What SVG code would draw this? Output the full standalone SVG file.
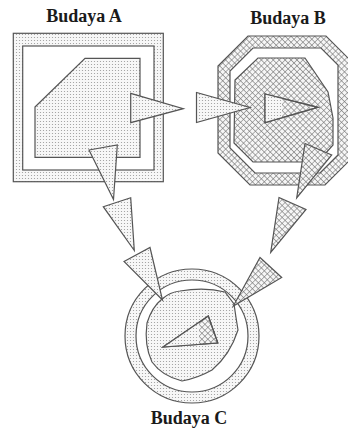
<svg xmlns="http://www.w3.org/2000/svg" width="348" height="430" viewBox="0 0 348 430">
<defs>
<pattern id="dots" width="3" height="3" patternUnits="userSpaceOnUse">
<rect width="3" height="3" fill="#f7f7f7"/>
<circle cx="1.5" cy="1.5" r="0.6" fill="#999"/>
</pattern>
<pattern id="hatch" width="4.2" height="4.2" patternUnits="userSpaceOnUse" patternTransform="rotate(45)">
<rect width="4.2" height="4.2" fill="#f6f6f6"/>
<path d="M0 0H4.2M0 0V4.2" stroke="#777" stroke-width="1.1"/>
</pattern>
<clipPath id="clipBtri"><rect x="250" y="80" width="32" height="60"/></clipPath>
<clipPath id="clipCtri"><rect x="150" y="300" width="49" height="60"/></clipPath>
</defs>
<style>
.t{font-family:"Liberation Serif","Times New Roman",serif;font-weight:bold;font-size:18px;fill:#1a1a1a;text-anchor:middle}
.s{stroke:#555;stroke-width:1.2;stroke-linejoin:miter}
.d{fill:url(#dots)}
.h{fill:url(#hatch)}
.w{fill:#fff}
</style>
<g id="nodeA">
<text class="t" x="84" y="22">Budaya A</text>
<rect class="s d" x="13.3" y="33.3" width="150" height="148.4"/>
<rect class="s w" x="22.7" y="46" width="131.3" height="124"/>
<polygon class="s d" points="35,107 85,58.3 140,58.3 140,157.3 35,157.3"/>
</g>
<g id="nodeB">
<text class="t" x="288" y="24">Budaya B</text>
<polygon class="s h" points="248,36 326,36 350,60 350,160 325,185 250,185 218,153 218,66"/>
<polygon class="s w" points="253,48 321,48 338,65 338,155 320,173 255,173 230,148 230,71"/>
<polygon class="s h" points="258,58 305,58 328,92 333,118 333,145 318,162 253,162 234,143 235,80"/>
</g>
<g id="nodeC">
<text class="t" x="189" y="424">Budaya C</text>
<circle class="s d" cx="192" cy="336" r="67"/>
<circle class="s w" cx="192" cy="336" r="56"/>
<path class="s d" d="M162,299 Q170,292 180,291 Q205,287 225,292 L234,304 Q236,318 238,330 Q230,355 212,370 Q198,378 182,381 Q162,376 152,362 Q144,345 147,323 Q152,307 162,299 Z"/>
</g>
<g id="connectors">
<polygon class="s d" points="130.7,93.3 130.7,122.7 183.3,108.7"/>
<polygon class="s d" points="196.5,92.5 196.5,122.5 250,107.5"/>
<polygon class="s h" points="265,94 265,122.7 318,107.3"/>
<polygon class="d" points="265,94 265,122.7 318,107.3" clip-path="url(#clipBtri)"/>
<polygon class="s" fill="none" points="265,94 265,122.7 318,107.3"/>
<polygon class="s d" points="89,150 117.3,145 113.5,199.5"/>
<polygon class="s d" points="103.3,206.7 130.7,197.7 134.3,250.5"/>
<polygon class="s d" points="124,261.5 150,247.5 162.5,300"/>
<polygon class="s h" points="305,143.5 331.7,155 296.7,198"/>
<polygon class="s h" points="279,197.5 306,209.5 270.7,252.5"/>
<polygon class="s h" points="260,257.5 281.7,277.5 233.3,306"/>
<polygon class="s h" points="163,347 208.3,316 217.8,343"/>
<polygon class="d" points="163,347 208.3,316 217.8,343" clip-path="url(#clipCtri)"/>
<polygon class="s" fill="none" points="163,347 208.3,316 217.8,343"/>
</g>
</svg>
